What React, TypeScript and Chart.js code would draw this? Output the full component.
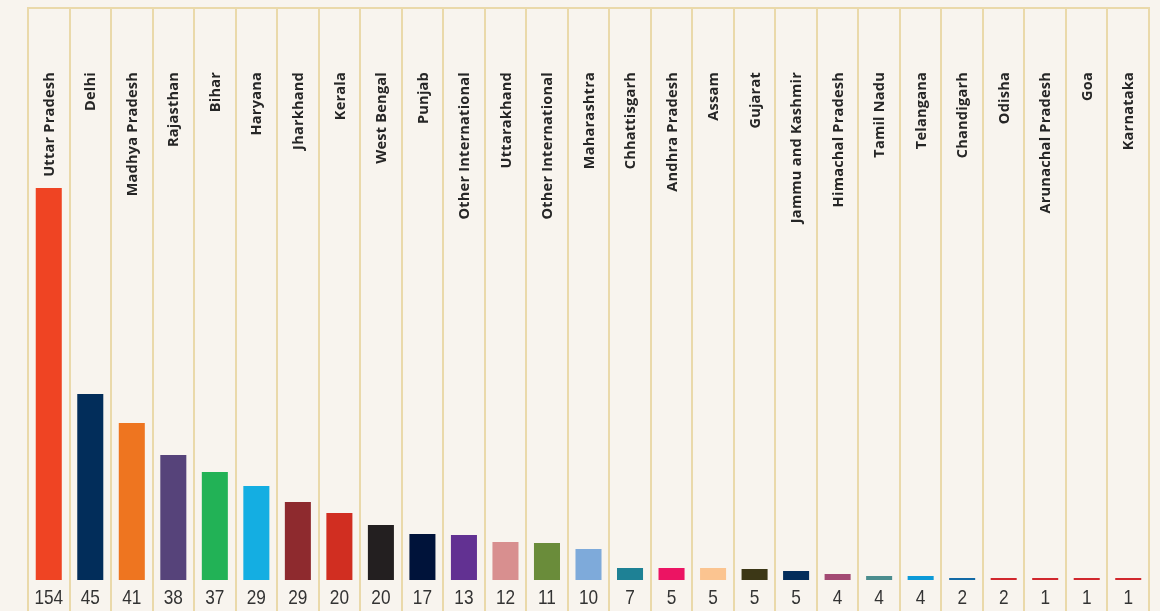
import React, { useEffect, useRef } from "react";
import { Chart, registerables } from "chart.js";

Chart.register(...registerables);

const categories = [
  "Uttar Pradesh", "Delhi", "Madhya Pradesh", "Rajasthan", "Bihar", "Haryana",
  "Jharkhand", "Kerala", "West Bengal", "Punjab", "Other International",
  "Uttarakhand", "Other International", "Maharashtra", "Chhattisgarh",
  "Andhra Pradesh", "Assam", "Gujarat", "Jammu and Kashmir", "Himachal Pradesh",
  "Tamil Nadu", "Telangana", "Chandigarh", "Odisha", "Arunachal Pradesh", "Goa",
  "Karnataka",
];

// bar heights as drawn (relative units)
const barValues = [
  392, 186, 157, 125, 108, 94, 78, 67, 55, 46, 45, 38, 37, 31, 12, 12, 12, 11,
  9, 6, 4, 4, 2, 2, 2, 2, 2,
];

// counts printed under each bar
const countLabels = [
  "154", "45", "41", "38", "37", "29", "29", "20", "20", "17", "13", "12", "11",
  "10", "7", "5", "5", "5", "5", "4", "4", "4", "2", "2", "1", "1", "1",
];

const barColors = [
  "#ef4423", "#022d5a", "#ee7520", "#56437a", "#22b256", "#14aee2", "#8e2a2e",
  "#d12e21", "#231f20", "#00133a", "#623192", "#d88f8f", "#6a8c3a", "#7eaada",
  "#1e8195", "#ec1463", "#fbc490", "#3c3716", "#032d5b", "#a34a73", "#4b8d8e",
  "#0d9ad8", "#136aa6", "#d1272d", "#d1272d", "#d1272d", "#d1272d",
];

const Y_MIN = -31;
const Y_MAX = 572;

const BG = "#f8f4ee";
const GRID = "#ead9aa";

const labelsPlugin = {
  id: "labelsPlugin",
  beforeDraw(chart: any) {
    const { ctx, width, height } = chart;
    ctx.save();
    ctx.fillStyle = BG;
    ctx.fillRect(0, 0, width, height);
    ctx.restore();
  },
  afterDatasetsDraw(chart: any) {
    const { ctx, chartArea } = chart;
    const xs = chart.scales.x;
    const ys = chart.scales.y;
    const base = ys.getPixelForValue(0);
    ctx.save();
    ctx.fillStyle = "#262626";
    categories.forEach((name, i) => {
      const x = xs.getPixelForValue(i);
      ctx.save();
      ctx.translate(x + 1, chartArea.top + 64);
      ctx.rotate(-Math.PI / 2);
      ctx.font = "bold 14.5px 'Open Sans'";
      (ctx as any).letterSpacing = "0.25px";
      ctx.textAlign = "right";
      ctx.textBaseline = "middle";
      ctx.fillText(name, 0, 0);
      ctx.restore();
    });
    ctx.fillStyle = "#333333";
    ctx.font = "21px 'Liberation Sans', Arial, sans-serif";
    ctx.textAlign = "center";
    ctx.textBaseline = "alphabetic";
    countLabels.forEach((t, i) => {
      const x = xs.getPixelForValue(i);
      ctx.save();
      ctx.translate(x, base + 24);
      ctx.scale(0.82, 1);
      ctx.fillText(t, 0, 0);
      ctx.restore();
    });
    ctx.restore();
  },
};

export default function App() {
  const ref = useRef<HTMLCanvasElement | null>(null);
  useEffect(() => {
    if (!ref.current) return;
    const chart = new Chart(ref.current, {
      type: "bar",
      data: {
        labels: categories.map((c, i) => c + "#" + i),
        datasets: [
          {
            data: barValues,
            backgroundColor: barColors,
            borderWidth: 0,
            categoryPercentage: 1,
            barPercentage: 0.627,
          },
        ],
      },
      options: {
        animation: false,
        responsive: false,
        maintainAspectRatio: false,
        layout: { padding: { left: 28, right: 11, top: 8, bottom: 0 } },
        plugins: { legend: { display: false }, tooltip: { enabled: false } },
        scales: {
          x: {
            position: "top",
            ticks: { display: false },
            grid: {
              display: true,
              offset: true,
              color: GRID,
              lineWidth: 2,
              drawTicks: false,
            },
            border: { display: true, color: GRID, width: 2 },
          },
          y: {
            display: false,
            min: Y_MIN,
            max: Y_MAX,
          },
        },
      },
      plugins: [labelsPlugin],
    });
    return () => chart.destroy();
  }, []);
  return (
    <div style={{ position: "fixed", left: 0, top: 0, width: 1160, height: 611, background: BG }}>
      <canvas ref={ref} width={1160} height={611} style={{ display: "block" }} />
    </div>
  );
}
